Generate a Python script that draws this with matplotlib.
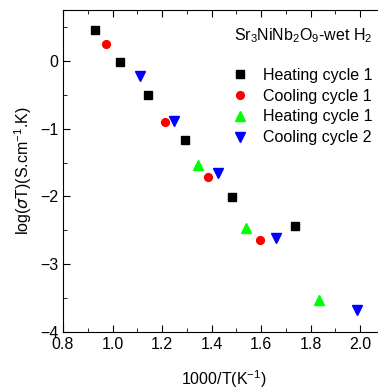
import matplotlib
matplotlib.use("Agg")
import matplotlib.pyplot as plt
from matplotlib.ticker import MultipleLocator

plt.rcParams["font.family"] = ["Liberation Sans", "DejaVu Sans"]
plt.rcParams["mathtext.fontset"] = "custom"
plt.rcParams["mathtext.rm"] = "Liberation Sans"

# 1000/T (K^-1) and log(sigma T) for each run
heat1_x = [0.928, 1.029, 1.143, 1.293, 1.484, 1.738]
heat1_y = [0.45, -0.02, -0.51, -1.17, -2.01, -2.44]
cool1_x = [0.973, 1.211, 1.384, 1.596]
cool1_y = [0.25, -0.90, -1.72, -2.64]
heat2_x = [1.344, 1.538, 1.833]
heat2_y = [-1.54, -2.47, -3.53]
cool2_x = [1.112, 1.250, 1.424, 1.661, 1.985]
cool2_y = [-0.23, -0.89, -1.66, -2.61, -3.67]

fig = plt.figure(figsize=(3.78, 3.90), dpi=100)
ax = fig.add_axes([63 / 378, 58 / 390, 322 / 378, 322 / 390])

ax.plot(heat1_x, heat1_y, "s", color="black", ms=5.2, ls="none", label="Heating cycle 1")
ax.plot(cool1_x, cool1_y, "o", color="red", ms=5.6, ls="none", label="Cooling cycle 1")
ax.plot(heat2_x, heat2_y, "^", color="#00ff00", ms=6.5, ls="none", label="Heating cycle 1")
ax.plot(cool2_x, cool2_y, "v", color="blue", ms=6.5, ls="none", label="Cooling cycle 2")

ax.set_xlim(0.8, 2.1)
ax.set_ylim(-4, 0.75)
ax.xaxis.set_major_locator(MultipleLocator(0.2))
ax.xaxis.set_minor_locator(MultipleLocator(0.1))
ax.yaxis.set_major_locator(MultipleLocator(1))
ax.yaxis.set_minor_locator(MultipleLocator(0.5))
ax.tick_params(which="both", direction="in", top=True, right=True, labelsize=11.5)
ax.tick_params(which="major", length=5)
ax.tick_params(which="minor", length=3)

ax.set_xlabel("1000/T(K$^{-1}$)", fontsize=11.5, labelpad=12)
ax.set_ylabel("log($\\sigma$T)(S.cm$^{-1}$.K)", fontsize=11.5)

ax.text(0.53, 0.907, "Sr$_3$NiNb$_2$O$_9$-wet H$_2$", transform=ax.transAxes,
        fontsize=11.5, va="baseline")
ax.legend(loc="upper left", bbox_to_anchor=(0.50, 0.84), frameon=False, fontsize=11.5,
          handletextpad=0.85, labelspacing=0.36, handlelength=1.2, borderaxespad=0)

fig.savefig("out.png", dpi=100)
